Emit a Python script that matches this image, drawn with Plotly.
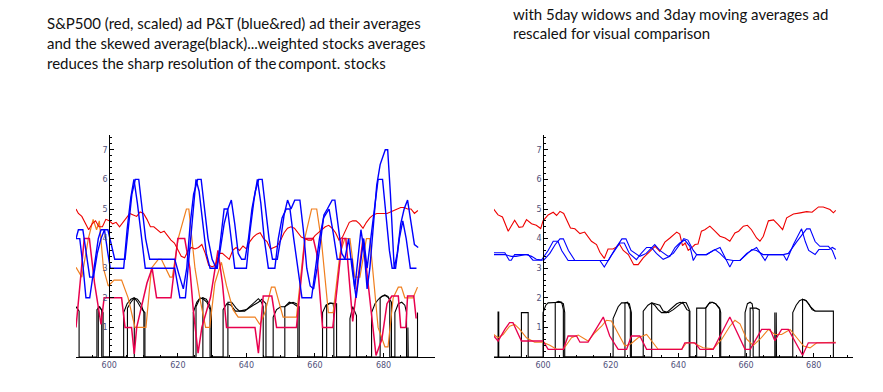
import plotly.graph_objects as go

# ---------------- LEFT PANEL DATA ----------------
L_red_x = [590.3,591,592,593,594,595,596,597,598,599,600,601,602,603,604,605,606,607,608,609,610,611,612,613,614,615,616,617,618,619,620,621,622,623,624,625,626,627,628,629,630,631,632,633,634,635,636,637,638,639,640,641,642,643,644,645,646,647,648,649,650,651,652,653,654,655,656,657,658,659,660,661,662,663,664,665,666,667,668,669,670,671,672,673,674,675,676,677,678,679,680,681,682,683,684,685,686,687,688,689,690]
L_red_y = [5.0,4.85,4.75,4.55,4.3,4.5,4.6,4.4,4.4,4.65,4.6,4.5,4.55,4.4,4.55,4.7,4.85,4.8,4.75,4.9,4.85,4.65,4.4,4.4,4.3,4.2,4.25,4.1,3.95,3.85,3.6,3.4,3.35,3.6,3.7,3.65,3.7,3.8,3.5,3.1,3.05,3.1,3.5,3.5,3.4,3.3,3.6,3.7,3.6,3.75,3.65,3.9,4.05,4.15,4.2,4.0,3.9,3.65,3.7,3.75,3.95,4.2,4.35,4.4,4.35,4.2,4.05,4.0,3.95,3.95,4.1,4.2,4.3,4.4,4.45,4.35,4.2,3.95,4.05,4.3,4.55,4.6,4.6,4.5,4.35,4.55,4.7,4.8,4.85,4.85,4.85,4.85,4.9,4.95,5.0,5.05,5.05,5.0,5.0,4.85,4.95]

L_blueA_x = [590.3,591.4,592.4,593.2,594.3,595.6,596.8,597.6,598.6,599.6,600.3,604.2,605.2,606.3,607.2,608.2,609.2,610.5,619.1,620.0,620.6,622.2,623.3,624.4,625.3,626.2,627.2,628.3,629.4,631.5,632.5,633.5,634.5,635.5,636.6,640.0,641.0,642.2,643.2,644.2,645.2,646.4,648.3,649.3,650.4,651.6,652.7,653.8,655.0,656.2,659.0,660.2,661.3,662.5,664.1,665.3,666.5,668.7,669.8,670.8,672.0,673.1,674.2,675.2,676.2,677.2,678.4,679.7,680.7,681.7,682.5,683.5,684.6,685.6,686.6,687.8,689.6]
L_blueA_y = [4.0,4.0,3.0,2.0,2.0,3.0,4.0,4.3,4.3,3.5,3.0,3.0,4.3,5.4,6.0,5.2,4.2,3.0,3.0,2.4,2.0,2.0,3.4,4.8,6.0,5.6,4.5,3.5,3.0,3.0,4.0,5.0,5.0,4.0,3.0,3.0,4.2,5.3,6.0,5.2,4.0,3.0,3.0,4.0,4.7,5.0,5.0,4.0,3.0,2.0,2.0,3.0,4.0,4.7,5.0,4.2,3.3,3.3,4.0,3.0,2.0,3.0,4.0,3.0,4.0,5.0,6.0,6.0,4.8,3.6,3.0,3.0,4.0,4.6,4.0,3.0,3.0]

L_blueB_x = [590.3,591.0,592.3,593.3,594.3,595.4,596.5,597.6,598.6,599.6,600.6,601.6,604.6,605.6,606.6,607.6,608.6,609.6,610.6,611.8,619.1,620.3,621.6,622.6,623.6,624.6,625.8,626.8,627.8,628.8,630.0,631.2,632.2,633.5,634.6,635.6,636.6,637.6,638.6,639.6,640.6,641.6,642.6,643.6,644.6,645.6,646.6,647.6,649.0,650.0,651.0,652.0,653.0,654.1,655.6,656.6,657.6,658.6,659.6,660.6,661.6,662.6,663.6,665.0,665.8,666.8,667.8,668.8,670.8,671.6,672.6,673.4,674.4,675.2,676.0,677.0,678.0,679.0,680.5,681.2,682.0,683.1,684.0,685.0,686.0,687.0,688.0,689.0,690.1]
L_blueB_y = [4.0,4.3,4.3,3.5,2.7,2.7,3.5,4.0,4.3,4.3,3.8,3.3,3.3,4.5,5.5,6.0,6.0,5.0,4.0,3.3,3.3,2.8,2.3,3.0,4.5,5.5,6.0,6.0,5.0,4.0,3.3,3.0,3.5,4.5,5.0,5.3,4.5,3.5,3.3,3.3,4.0,5.0,5.6,6.0,6.0,5.0,4.0,3.3,3.3,4.0,4.8,5.3,5.0,5.3,5.3,4.3,3.0,2.4,2.3,3.0,4.0,4.8,5.0,5.3,5.3,4.3,3.5,3.3,3.3,2.3,3.5,4.3,3.5,2.3,3.0,4.5,5.8,6.5,7.0,7.0,5.5,3.0,3.5,4.5,5.0,5.3,4.5,3.8,3.7]

L_orange_x = [590.3,592.0,593.9,595.3,596.3,597.1,598.3,599.7,601.4,603.6,605.5,607.5,610.7,612.3,614.3,615.2,617.7,618.4,620.1,622.5,623.2,625.0,626.4,628.1,629.3,630.8,632.7,634.2,636.1,637.6,642.5,643.9,645.4,647.3,648.3,649.8,650.7,654.6,657.0,659.0,660.5,661.9,663.9,665.3,667.3,668.7,670.2,671.6,673.1,675.0,676.0,678.4,680.4,681.3,682.8,684.3,685.2,686.2,688.6,689.9]
L_orange_y = [3.03,2.7,4.0,4.65,4.3,4.6,3.0,2.4,2.6,2.6,2.0,1.0,1.0,3.0,3.3,3.3,2.7,2.7,4.0,5.0,5.0,3.0,2.0,1.0,1.0,2.5,3.2,2.4,1.6,1.35,1.35,1.1,1.5,2.36,2.36,1.75,1.35,1.35,4.0,5.0,5.0,3.9,1.5,1.5,3.5,4.0,4.0,2.7,2.7,4.0,4.0,1.0,0.34,0.34,2.0,2.36,2.36,2.0,2.0,2.36]

L_crimson_x = [590.3,591.5,592.7,594.2,595.7,597.6,598.5,603.6,604.6,606.5,607.3,608.0,611.0,612.5,613.8,618.0,620.0,622.0,623.5,624.5,625.9,627.0,629.5,631.7,633.0,634.2,642.5,643.5,644.9,647.4,648.3,648.8,654.6,657.1,659.5,660.5,662.2,665.2,668.0,669.0,671.0,674.0,675.0,677.8,679.5,681.0,682.4,684.3,685.0,686.5,687.0,688.8,689.5]
L_crimson_y = [1.0,2.5,4.0,4.0,2.5,1.1,2.0,2.0,1.0,1.0,0.1,1.0,2.5,3.0,2.0,2.0,4.0,4.0,3.0,1.6,0.13,1.0,2.0,3.6,2.5,1.0,1.0,0.13,2.06,2.06,1.42,1.0,1.0,4.0,4.0,3.5,1.0,1.0,4.0,4.0,1.2,4.0,3.0,0.05,0.6,1.8,2.06,2.06,1.0,1.0,2.06,2.06,1.3]

L_black1_x = [590.3,591.2,591.2,596.4,596.4,597.2,598.2,598.2,604.2,604.2,605.2,606.3,607.2,608.2,609.2,610.1,610.1,624.5,624.5,625.5,626.5,627.5,628.5,629.4,629.4,633.2,633.2,634.3,635.5,636.8,639.5,641.0,642.5,643.5,644.4,644.9,644.9,647.8,647.8,648.8,650.0,651.2,652.5,653.6,654.6,655.4,655.4,662.2,662.2,663.2,664.3,665.3,665.5,665.5,670.2,670.2,671.0,671.8,672.1,672.1,676.5,676.5,677.5,678.5,679.5,680.5,681.5,682.3,682.3,683.3,683.3,684.3,685.3,686.2,686.7,686.7,689.9,689.9]
L_black1_y = [1.7,1.55,0,0,1.6,1.7,1.5,0,0,1.5,1.8,1.95,2.0,1.95,1.8,1.5,0,0,1.5,1.85,2.0,1.95,1.85,1.6,0,0,1.6,1.8,1.75,1.55,1.55,1.7,1.85,1.97,1.85,1.7,0,0,1.35,1.6,1.7,1.7,1.8,1.85,1.8,1.7,0,0,1.5,1.75,1.82,1.8,1.6,0,0,1.3,1.7,1.5,1.4,0,0,1.5,1.8,1.95,2.05,2.08,2.0,1.85,0,0,1.5,1.8,1.85,1.75,1.5,0,0,1.5]

L_black2_x = [596.8,596.8,597.8,597.8,605.3,605.3,606.3,607.3,607.3,607.3,608.3,609.3,610.4,610.4,625.3,625.3,626.3,627.3,627.3,627.3,628.3,629.3,629.8,629.8,634.6,634.6,635.7,637.0,638.0,640.0,642.0,643.5,644.5,645.7,645.7,651.2,651.2,652.5,653.8,655.0,655.0,663.4,663.4,664.6,666.3,666.3,679.0,679.0,680.3,681.3,681.8,681.8,687.1,687.1,687.2]
L_black2_y = [0,1.7,1.6,0,0,1.65,1.85,2.0,0,2.0,1.85,1.65,1.5,0,0,1.7,1.95,2.0,0,2.0,1.95,1.75,1.5,0,0,1.85,1.85,1.65,1.55,1.6,1.75,1.85,1.95,1.8,0,0,1.7,1.85,1.8,1.7,0,0,1.75,1.82,1.8,0,0,2.0,2.1,2.05,1.9,0,0,1.0,0]

# ---------------- RIGHT PANEL DATA ----------------
R_red_x = [585.4,586.7,588.0,589.7,591.6,592.9,594.0,595.1,596.6,598.0,599.3,600.0,601.5,603.0,604.0,605.0,606.1,607.1,608.1,609.4,610.9,612.3,613.3,614.3,615.8,616.8,618.1,619.2,620.7,621.7,622.5,623.7,625.2,626.8,628.1,629.6,631.6,633.1,634.5,636.0,637.5,639.5,640.4,641.2,642.0,642.9,644.2,644.9,645.8,646.8,647.8,649.3,650.8,652.3,653.8,655.2,656.7,657.8,659.2,660.4,661.6,663.1,664.1,665.1,666.6,668.1,669.5,670.8,672.0,674.0,676.0,677.9,679.5,681.4,682.8,683.8,684.8,685.8,686.5]
R_red_y = [5.0,4.8,4.73,4.25,4.62,4.38,4.4,4.64,4.5,4.45,4.34,4.6,4.8,4.89,4.78,4.92,4.85,4.62,4.36,4.33,4.17,4.22,4.08,3.91,3.8,3.54,3.33,3.65,3.65,3.72,3.83,3.6,3.46,3.12,3.12,3.35,3.57,3.74,3.57,3.88,4.02,4.22,4.15,3.76,3.85,3.6,3.72,3.8,3.82,4.25,4.3,4.42,4.25,4.08,4.02,3.91,4.19,4.25,4.42,4.45,4.3,4.02,3.91,4.08,4.6,4.63,4.47,4.3,4.7,4.83,4.87,4.91,4.89,5.07,5.07,5.02,4.98,4.87,4.95]

R_blueA_x = [585.4,588.7,590.0,590.6,591.6,595.6,597.0,599.5,601.5,603.0,604.4,605.5,607.4,616.8,618.1,620.0,622.7,624.0,625.5,627.6,629.0,630.6,632.0,633.5,635.5,637.5,639.0,640.4,641.9,643.4,644.4,645.4,648.3,650.3,652.3,654.2,655.2,656.2,658.2,660.2,663.1,665.6,666.6,671.0,672.0,674.0,676.4,677.5,678.5,680.4,681.5,684.5,685.5,686.5]
R_blueA_y = [3.52,3.52,3.27,3.27,3.46,3.46,3.27,3.27,3.6,3.91,3.91,3.6,3.26,3.26,3.04,3.4,3.85,3.85,3.5,3.29,3.5,3.7,3.7,3.5,3.3,3.4,3.7,3.85,3.95,3.74,3.26,3.46,3.46,3.6,3.7,3.26,3.04,3.26,3.26,3.5,3.7,3.26,3.46,3.46,3.26,3.8,4.33,3.9,3.6,3.46,3.63,3.63,3.7,3.63]

R_blueB_x = [585.4,588.7,590.6,592.0,595.0,596.6,598.0,600.2,602.0,603.6,605.0,606.0,607.5,609.4,619.3,621.0,623.3,624.5,626.0,628.6,630.5,633.0,634.5,637.0,638.5,640.0,641.6,642.8,644.4,645.4,648.3,650.8,652.3,654.0,656.2,658.2,660.2,661.7,663.1,665.0,671.0,672.5,675.0,677.9,678.9,680.4,681.8,684.3,685.5,686.5]
R_blueB_y = [3.46,3.46,3.4,3.4,3.46,3.4,3.3,3.27,3.5,3.8,3.99,3.99,3.6,3.26,3.26,3.6,3.99,3.99,3.6,3.4,3.5,3.8,3.6,3.4,3.5,3.75,4.0,3.95,3.6,3.46,3.46,3.63,3.5,3.3,3.26,3.26,3.46,3.63,3.6,3.46,3.46,3.5,3.9,4.33,4.33,3.9,3.74,3.74,3.6,3.3]

R_crimson_x = [585.4,586.7,588.7,590.1,591.1,592.1,593.6,600.0,601.5,606.0,607.4,609.9,610.9,613.3,617.8,619.7,622.2,624.7,626.1,628.6,630.6,641.0,641.9,644.9,646.4,650.3,655.2,659.7,661.2,664.6,667.1,668.5,670.5,672.5,676.7,678.4,686.5]
R_crimson_y = [0.71,0.54,0.93,1.16,1.16,0.93,0.54,0.54,0.26,0.26,0.71,0.71,0.5,0.5,1.35,0.71,0.26,0.26,0.71,0.71,0.26,0.26,0.48,0.48,0.26,0.26,1.35,0.26,0.26,0.93,0.93,0.55,0.93,0.93,0.06,0.48,0.48]

R_orange_x = [585.4,586.7,588.2,590.1,591.6,593.0,595.1,597.5,600.0,602.0,604.0,606.0,608.4,610.4,613.3,615.3,617.3,618.7,620.2,622.7,624.2,626.0,628.1,630.6,632.6,634.0,641.0,642.4,644.4,647.3,650.3,652.8,655.2,656.7,658.2,660.2,662.1,664.1,666.6,668.5,670.5,673.0,675.0,677.0,678.9,680.9,686.5]
R_orange_y = [0.76,0.65,0.76,1.04,1.1,0.95,0.65,0.5,0.5,0.4,0.26,0.26,0.65,0.74,0.54,0.82,1.04,1.24,1.22,0.71,0.37,0.45,0.65,0.76,0.48,0.26,0.26,0.48,0.48,0.31,0.28,0.6,1.04,1.24,1.12,0.6,0.39,0.6,0.93,0.76,0.76,0.93,0.65,0.37,0.31,0.48,0.5]

R_black1_x = [585.5,586.7,586.7,586.9,586.9,593.6,593.6,595.6,595.6,600.0,600.0,600.8,601.5,604.0,605.0,606.0,606.4,606.4,620.7,620.7,622.2,623.2,624.6,625.5,626.1,626.1,629.6,629.6,631.0,632.1,633.4,634.5,635.5,637.0,638.5,640.0,641.2,642.3,643.2,643.2,645.4,645.4,648.0,649.0,650.0,651.0,652.3,652.5,652.5,659.7,659.7,660.4,661.2,661.8,662.1,662.1,668.5,668.5,668.6,673.8,673.8,674.8,675.8,676.7,677.5,678.5,679.5,680.5,685.8,685.8]
R_black1_y = [0,0,1.52,1.52,0,0,1.5,1.5,0,0,1.5,1.75,1.83,1.83,1.85,1.8,1.5,0,0,1.3,1.7,1.83,1.83,1.8,1.5,0,0,1.55,1.75,1.83,1.8,1.75,1.55,1.5,1.6,1.75,1.85,1.83,1.6,0,0,1.65,1.65,1.8,1.85,1.8,1.6,1.5,0,0,1.5,1.8,1.85,1.8,1.55,0,0,1.5,0,0,1.5,1.75,1.9,1.95,1.92,1.8,1.6,1.55,1.55,0]

R_black2_x = [603.6,603.6,604.5,605.5,606.0,606.0,624.2,624.2,625.0,625.8,625.8,632.1,632.1,633.0,634.0,635.0,636.5,638.0,639.5,640.5,641.5,642.5,643.4,643.4,648.1,648.1,649.3,650.0,651.0,652.2,652.2,661.2,661.2,663.0,663.9,663.9,668.9,668.9,669.0,676.7,676.7,677.8,679.0,680.4]
R_black2_y = [0,1.83,1.88,1.85,1.6,0,0,1.83,1.85,1.6,0,0,1.83,1.75,1.6,1.5,1.5,1.65,1.8,1.85,1.8,1.6,1.55,0,0,1.65,1.85,1.85,1.8,1.65,0,0,1.65,1.65,1.6,0,0,1.5,0,0,1.95,1.9,1.7,1.55]

# tick values
x_ticks = [600, 620, 640, 660, 680]
y_ticks = [1, 2, 3, 4, 5, 6, 7]

W, H = 883, 392
BLUE = "#0000ff"
RED = "#ee0000"
ORANGE = "#f07f1e"
CRIMSON = "#e8004e"
BLACK = "#000000"

fig = go.Figure()

def add(x, y, color, width, xa, ya):
    fig.add_trace(go.Scatter(x=x, y=y, mode="lines", line=dict(color=color, width=width),
                             xaxis=xa, yaxis=ya, showlegend=False, hoverinfo="skip"))

# left
add(L_black1_x, L_black1_y, BLACK, 1.1, "x", "y")
add(L_black2_x, L_black2_y, BLACK, 1.1, "x", "y")
add(L_orange_x, L_orange_y, ORANGE, 1.2, "x", "y")
add(L_crimson_x, L_crimson_y, CRIMSON, 1.5, "x", "y")
add(L_red_x, L_red_y, RED, 1.1, "x", "y")
add(L_blueA_x, L_blueA_y, BLUE, 1.4, "x", "y")
add(L_blueB_x, L_blueB_y, BLUE, 1.4, "x", "y")
# right
add(R_black1_x, R_black1_y, BLACK, 1.1, "x2", "y2")
add(R_black2_x, R_black2_y, BLACK, 1.1, "x2", "y2")
add(R_orange_x, R_orange_y, ORANGE, 1.1, "x2", "y2")
add(R_crimson_x, R_crimson_y, CRIMSON, 1.3, "x2", "y2")
add(R_red_x, R_red_y, RED, 1.1, "x2", "y2")
add(R_blueA_x, R_blueA_y, BLUE, 1.1, "x2", "y2")
add(R_blueB_x, R_blueB_y, BLUE, 1.1, "x2", "y2")

tickfont = dict(family="DejaVu Sans", size=8, color="#50507a")
ydom = [(H - 357) / H, (H - 135) / H]

def xax(domain, rng, anchor):
    return dict(domain=domain, range=rng, anchor=anchor, showgrid=False, zeroline=False,
                showline=True, linecolor="black", linewidth=1,
                tickmode="array", tickvals=x_ticks, ticktext=[str(v) for v in x_ticks],
                ticks="inside", ticklen=4, tickcolor="black", tickfont=tickfont,
                minor=dict(dtick=5, tick0=600, ticks="inside", ticklen=2, tickcolor="black"))

def yax(pos):
    return dict(domain=ydom, range=[0, 7.5], anchor="free", position=pos, showgrid=False,
                zeroline=False, showline=True, linecolor="black", linewidth=1,
                tickmode="array", tickvals=y_ticks, ticktext=[str(v) for v in y_ticks],
                ticks="inside", ticklen=4, tickcolor="black", tickfont=tickfont,
                minor=dict(dtick=0.2, tick0=0, ticks="inside", ticklen=2, tickcolor="black"))

fig.update_layout(
    width=W, height=H, margin=dict(l=0, r=0, t=0, b=0),
    paper_bgcolor="white", plot_bgcolor="white",
    xaxis=xax([76 / W, 435 / W], [590.3, 695.0], "y"),
    yaxis=yax(109.3 / W),
    xaxis2=xax([494 / W, 853 / W], [585.5, 691.6], "y2"),
    yaxis2=yax(543.3 / W),
)

txtfont = dict(family="Lato", size=15, color="#111111")
left_lines = ["S&amp;P500 (red, scaled) ad P&amp;T (blue&amp;red) ad their averages",
              "and the skewed average(black)...weighted stocks averages",
              "reduces the sharp resolution of the\u2009compont. stocks"]
right_lines = ["with 5day widows and 3day moving averages ad",
               "rescaled for visual comparison"]
for i, t in enumerate(left_lines):
    fig.add_annotation(text=t, xref="paper", yref="paper", x=45 / W, y=1 - (23 + 20 * i) / H,
                       xanchor="left", yanchor="middle", showarrow=False, font=txtfont)
for i, t in enumerate(right_lines):
    fig.add_annotation(text=t, xref="paper", yref="paper", x=511 / W, y=1 - (14 + 19 * i) / H,
                       xanchor="left", yanchor="middle", showarrow=False, font=txtfont)

fig.write_html("out.html", config={"displayModeBar": False},
               post_script="document.body.style.margin='0px';document.body.style.overflow='hidden';")
